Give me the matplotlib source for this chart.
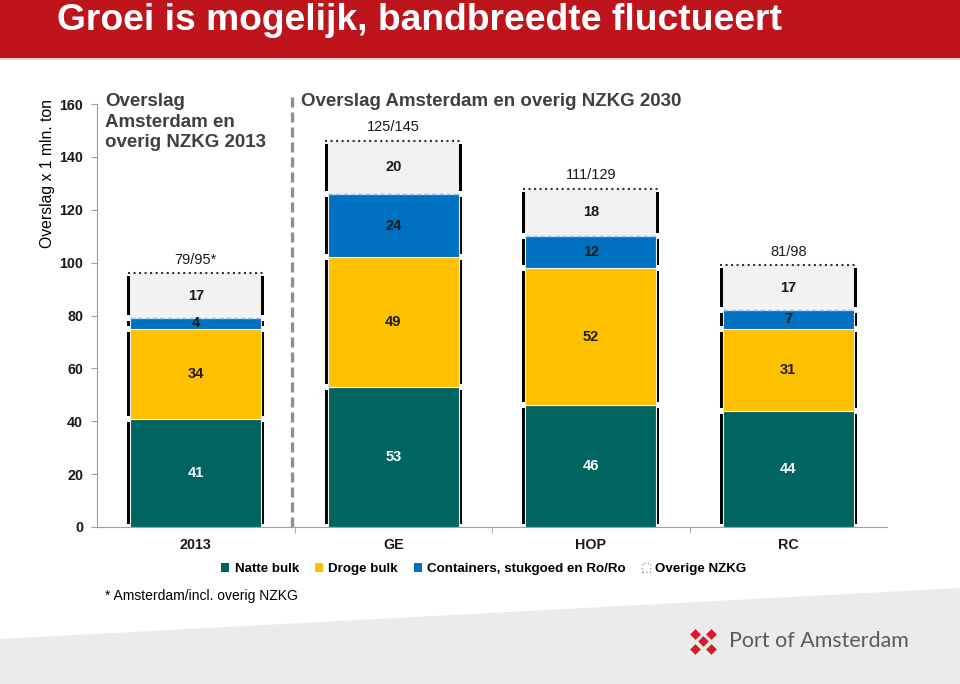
import numpy as np
import matplotlib.pyplot as plt
from matplotlib.patches import Patch, Polygon, Rectangle

# data
categories = ['2013', 'GE', 'HOP', 'RC']
natte_bulk = [41, 53, 46, 44]
droge_bulk = [34, 49, 52, 31]
containers = [4, 24, 12, 7]
overige = [17, 20, 18, 17]
totals = ['79/95*', '125/145', '111/129', '81/98']
yticks = [0, 20, 40, 60, 80, 100, 120, 140, 160]

series = [natte_bulk, droge_bulk, containers, overige]
names = ['Natte bulk', 'Droge bulk', 'Containers, stukgoed en Ro/Ro', 'Overige NZKG']
colors = ['#006461', '#FFC000', '#0070C0', '#F2F2F2']
txtcol = ['white', '#1a1a1a', '#1a1a1a', '#1a1a1a']

plt.rcParams['font.family'] = ['Liberation Sans', 'DejaVu Sans']

fig = plt.figure(figsize=(9.6, 6.84), dpi=100)
W, H = 960, 684

# background decoration layer in pixel coords
bg = fig.add_axes([0, 0, 1, 1], zorder=0)
bg.set_xlim(0, W)
bg.set_ylim(H, 0)
bg.axis('off')
bg.add_patch(Polygon([[0, 639], [W, 588], [W, H], [0, H]], closed=True,
                     facecolor='#EBEBEB', edgecolor='none'))
bg.add_patch(Rectangle((0, 0), W, 58, facecolor='#BE141B', edgecolor='none'))
bg.add_patch(Rectangle((0, 58), W, 2, facecolor='#F4D0D0', edgecolor='none'))
bg.text(57, 20, 'Groei is mogelijk, bandbreedte fluctueert', color='white',
        fontsize=26.8, fontweight='bold', va='center', ha='left')
# logo
lx = [695, 711, 703, 695, 711]
ly = [634, 634, 641, 649, 649]
bg.scatter(lx, ly, marker='D', s=30, color='#D7192D', linewidths=0)
bg.text(729, 641, 'Port of Amsterdam', color='#5A5A5A', fontsize=15.4,
        family='Lato', va='center', ha='left')
bg.text(105, 596, '* Amsterdam/incl. overig NZKG', fontsize=10, va='center',
        ha='left', color='black')
bg.text(48, 174, 'Overslag x 1 mln. ton', rotation=90, fontsize=11.3,
        va='center', ha='center', color='black')

# main chart
ax = fig.add_axes([97 / W, 1 - 527 / H, (887 - 97) / W, (527 - 104) / H], zorder=1)
ax.patch.set_alpha(0)
x = np.arange(len(categories))
w = 0.665
bottom = np.zeros(len(categories))
for i, vals in enumerate(series):
    vals = np.array(vals, dtype=float)
    # dark shadow strips at the sides
    ax.bar(x, vals - 2.2, width=w + 0.03, bottom=bottom + 1.1, color='black',
           zorder=1)
    if i == 3:
        ax.bar(x, vals, width=w, bottom=bottom, color=colors[i], zorder=2,
               edgecolor='none')
        ax.hlines(bottom + vals, x - w / 2 - 0.012, x + w / 2 + 0.012,
                  color='#333333', linestyle=':', linewidth=1.5, zorder=3)
        ax.hlines(bottom, x - w / 2, x + w / 2, color='#9DC3E6',
                  linestyle='--', linewidth=1, zorder=3)
    else:
        ax.bar(x, vals, width=w, bottom=bottom, color=colors[i], zorder=2,
               edgecolor='#F0F0F0', linewidth=0.8)
    for j in range(len(x)):
        ax.text(x[j], bottom[j] + vals[j] / 2, str(int(vals[j])), ha='center',
                va='center', fontsize=10.5, fontweight='bold', color=txtcol[i],
                zorder=4)
    bottom = bottom + vals

for j in range(len(x)):
    ax.text(x[j], bottom[j] + 2.5, totals[j], ha='center', va='bottom',
            fontsize=10.5, color='#1a1a1a')

ax.set_xlim(-0.5, 3.5)
ax.set_ylim(0, 160)
ax.set_yticks(yticks)
ax.set_xticks(x)
ax.set_xticklabels(categories)
ax.set_xticks([0.5, 1.5, 2.5], minor=True)
ax.tick_params(axis='x', which='major', length=0, pad=8)
ax.tick_params(axis='x', which='minor', length=4, color='#A0A0A0')
ax.tick_params(axis='y', length=4, color='#A0A0A0', pad=6)
for lab in ax.get_xticklabels() + ax.get_yticklabels():
    lab.set_fontweight('bold')
    lab.set_fontsize(10.3)
    lab.set_color('#1a1a1a')
for s in ['top', 'right']:
    ax.spines[s].set_visible(False)
ax.spines['left'].set_color('#A0A0A0')
ax.spines['bottom'].set_color('#A0A0A0')

ax.plot([0.487, 0.487], [0, 162.5], color='#909090', linestyle='--',
        linewidth=2.4, dashes=(3, 1.5), clip_on=False, zorder=1)

ax.text(-0.46, 164, 'Overslag\nAmsterdam en\noverig NZKG 2013', ha='left',
        va='top', fontsize=13.5, fontweight='bold', color='#404040',
        linespacing=1.27)
ax.text(0.535, 161, 'Overslag Amsterdam en overig NZKG 2030', ha='left',
        va='center', fontsize=13.5, fontweight='bold', color='#404040')

handles = [Patch(facecolor=colors[k], edgecolor='none') for k in range(3)]
handles.append(Patch(facecolor='white', edgecolor='#A0A0A0', linestyle=':'))
fig.legend(handles, names, loc='center', bbox_to_anchor=(484 / W, 1 - 569 / H),
           ncol=4, frameon=False, handlelength=0.6, handleheight=0.6,
           handletextpad=0.4, columnspacing=1.2,
           prop={'weight': 'bold', 'size': 9.6})

fig.savefig('out.png', dpi=100)
